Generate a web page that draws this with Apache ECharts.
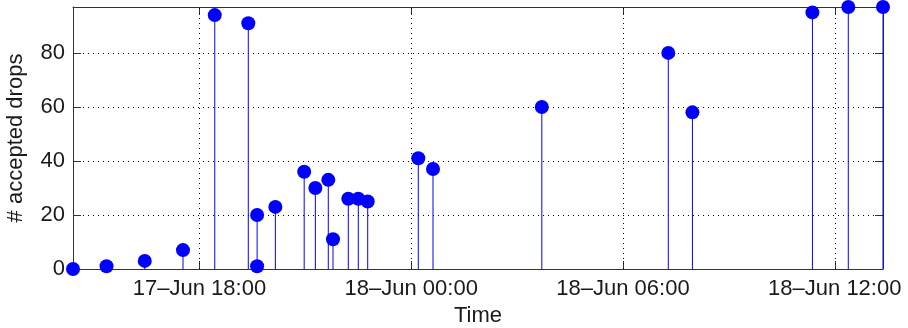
<!DOCTYPE html>
<html>
<head>
<meta charset="utf-8">
<script src="https://cdn.jsdelivr.net/npm/echarts@6/dist/echarts.min.js"></script>
<style>
  html, body { margin: 0; padding: 0; background: #fff; }
  #chart { width: 908px; height: 328px; }
</style>
</head>
<body>
<div id="chart"></div>
<script>
// Arrival time of each batch and the number of drops accepted in it
const times = [
  '17-Jun 14:25', '17-Jun 15:22', '17-Jun 16:27', '17-Jun 17:32',
  '17-Jun 18:26', '17-Jun 19:23', '17-Jun 19:38', '17-Jun 19:38',
  '17-Jun 20:09', '17-Jun 20:58', '17-Jun 21:17', '17-Jun 21:39',
  '17-Jun 21:47', '17-Jun 22:13', '17-Jun 22:30', '17-Jun 22:46',
  '18-Jun 00:12', '18-Jun 00:37', '18-Jun 03:42', '18-Jun 07:17',
  '18-Jun 07:58', '18-Jun 11:22', '18-Jun 12:23', '18-Jun 13:22'
];
const drops = [
  0, 1, 3, 7,
  94, 91, 20, 1,
  23, 36, 30, 33,
  11, 26, 26, 25,
  41, 37, 60, 80,
  58, 95, 97, 97
];
const xTickLabels = ['17-Jun 18:00', '18-Jun 00:00', '18-Jun 06:00', '18-Jun 12:00'];
const yTicks = [0, 20, 40, 60, 80];

// Hours since 17-Jun 00:00
function toHours(s) {
  const m = s.match(/(\d+)-Jun (\d+):(\d+)/);
  return (+m[1] - 17) * 24 + (+m[2]) + (+m[3]) / 60;
}
function fmtHours(h) {
  const day = 17 + Math.floor(h / 24 + 1e-9);
  const hr = Math.round(h - (day - 17) * 24);
  return day + '\u2013Jun ' + String(hr).padStart(2, '0') + ':00';
}

const xs = times.map(toHours);
const points = xs.map((x, i) => [x, drops[i]]);
const xTickVals = xTickLabels.map(toHours);
const xMin = Math.min.apply(null, xs);
const xMax = Math.max.apply(null, xs);
const yMax = Math.max.apply(null, drops);

const FONT = 'Liberation Sans, Arial, sans-serif';
const FS = 22;
const TEXT = '#1a1a1a';
const FRAME = '#333333';
const DOTS = { color: '#000', width: 1, type: [1, 4] };

const chart = echarts.init(document.getElementById('chart'), null, { renderer: 'canvas' });
chart.setOption({
  animation: false,
  backgroundColor: '#fff',
  grid: { left: 73, right: 25, top: 7, bottom: 59, containLabel: false, outerBoundsMode: 'none' },
  xAxis: [{
    type: 'value', position: 'bottom', min: xMin, max: xMax,
    name: 'Time', nameLocation: 'middle', nameGap: 35,
    nameTextStyle: { fontFamily: FONT, fontSize: FS, color: TEXT },
    axisLine: { show: true, onZero: false, lineStyle: { color: FRAME, width: 1 } },
    axisTick: { show: true, inside: true, length: 8, customValues: xTickVals, lineStyle: { color: FRAME } },
    axisLabel: { customValues: xTickVals, formatter: fmtHours, margin: 9,
      fontFamily: FONT, fontSize: FS, color: TEXT },
    splitLine: { show: false }
  }, {
    type: 'value', position: 'top', min: xMin, max: xMax,
    axisLine: { show: true, onZero: false, lineStyle: { color: FRAME, width: 1 } },
    axisTick: { show: true, inside: true, length: 8, customValues: xTickVals, lineStyle: { color: FRAME } },
    axisLabel: { show: false },
    splitLine: { show: false }
  }],
  yAxis: [{
    type: 'value', position: 'left', min: 0, max: yMax, interval: 20,
    name: '# accepted drops', nameLocation: 'middle', nameGap: 46,
    nameTextStyle: { fontFamily: FONT, fontSize: FS, color: TEXT },
    axisLine: { show: true, onZero: false, lineStyle: { color: FRAME, width: 1 } },
    axisTick: { show: true, inside: true, length: 8, customValues: yTicks, lineStyle: { color: FRAME } },
    axisLabel: { customValues: yTicks, margin: 8, fontFamily: FONT, fontSize: FS, color: TEXT },
    splitLine: { show: true, lineStyle: DOTS }
  }, {
    type: 'value', position: 'right', min: 0, max: yMax, interval: 20,
    axisLine: { show: true, onZero: false, lineStyle: { color: FRAME, width: 1 } },
    axisTick: { show: true, inside: true, length: 8, customValues: yTicks, lineStyle: { color: FRAME } },
    axisLabel: { show: false },
    splitLine: { show: false }
  }],
  series: [{
    // vertical dotted grid at the time ticks
    type: 'line', data: [], z: 1, silent: true,
    markLine: {
      silent: true, symbol: 'none', label: { show: false },
      lineStyle: DOTS,
      data: xTickVals.map(v => ({ xAxis: v }))
    }
  }, {
    // stems
    type: 'custom', z: 2, silent: true,
    data: points,
    renderItem: function (params, api) {
      const top = api.coord([api.value(0), api.value(1)]);
      const base = api.coord([api.value(0), 0]);
      return {
        type: 'line',
        shape: { x1: top[0], y1: top[1], x2: base[0], y2: base[1] },
        style: { stroke: '#0000ff', lineWidth: 1 }
      };
    }
  }, {
    // stem heads
    type: 'scatter', z: 3, clip: false,
    data: points,
    symbol: 'circle', symbolSize: 14,
    itemStyle: { color: '#0000ff', opacity: 1 }
  }]
});
</script>
</body>
</html>
